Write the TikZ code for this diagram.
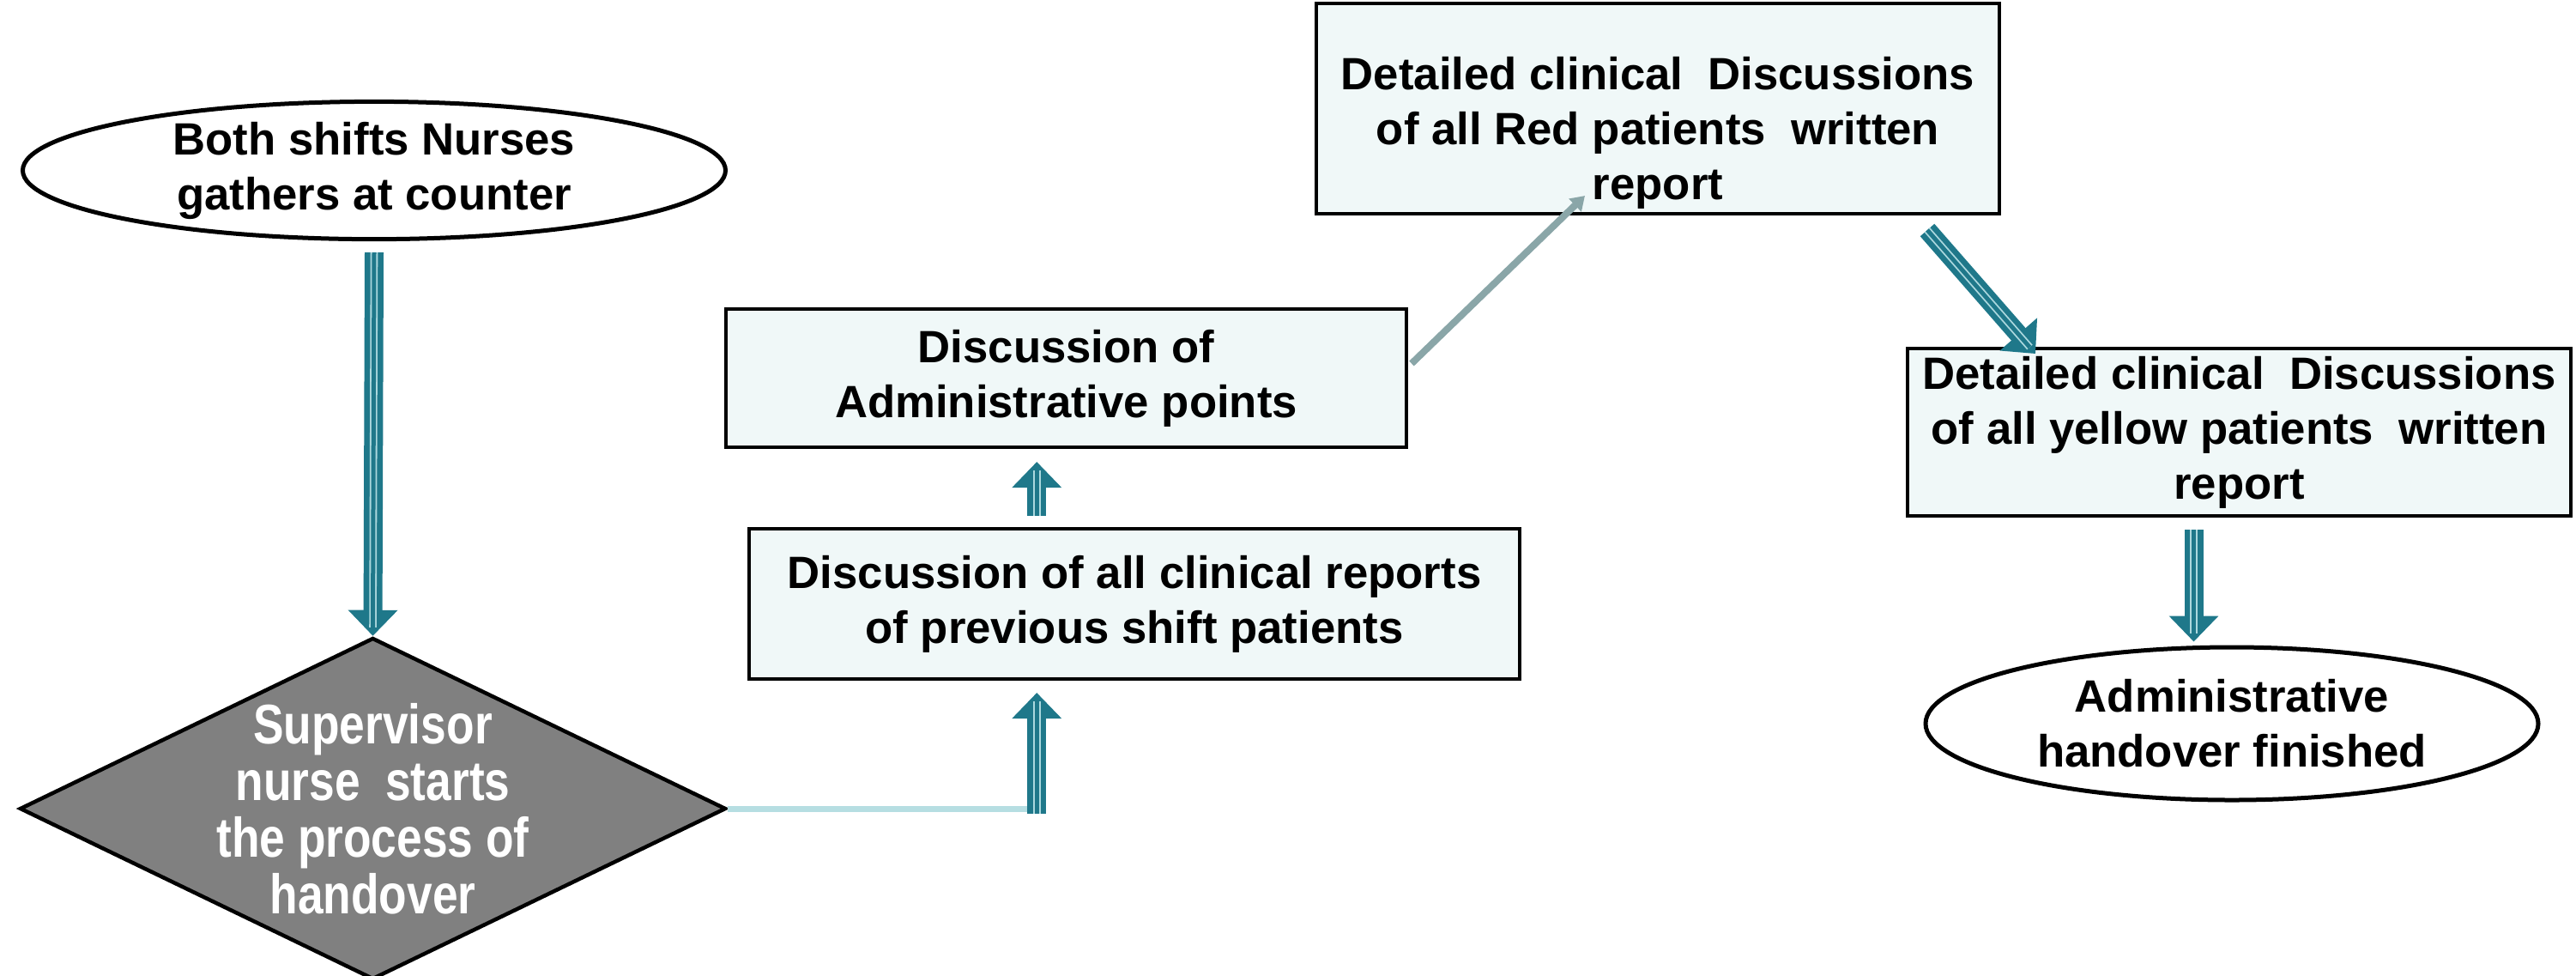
\documentclass[tikz,border=0pt]{standalone}
\usepackage{fontspec}
\setmainfont{Liberation Sans}
\newfontfamily\narrowsans[FakeStretch=0.82]{Liberation Sans}
\usepackage{tikz}
\usepackage{xcolor}
\usetikzlibrary{shapes.geometric, arrows.meta, positioning, calc}
\definecolor{boxfill}{RGB}{240, 248, 248}
\definecolor{flowteal}{RGB}{31, 120, 138}
\definecolor{flowlight}{RGB}{172, 216, 222}
\definecolor{feedcyan}{RGB}{182, 222, 226}
\definecolor{slantgray}{RGB}{138, 166, 168}
\definecolor{decgray}{RGB}{128, 128, 128}
\tikzset{
    stepbox/.style={
        rectangle, draw=black, line width=0.04cm, fill=boxfill, inner sep=0pt,
        font=\fontsize{15}{18.2}\selectfont\bfseries, align=center
    },
    endpoint/.style={stepbox, ellipse, fill=white, line width=0.05cm},
    decision/.style={
        diamond, draw=black, line width=0.045cm, fill=decgray, inner sep=0pt
    },
    decisiontext/.style={
        text=white, align=center, inner sep=0pt,
        font=\narrowsans\fontsize{18.5}{18.8}\selectfont\bfseries
    },
    blockarrow/.style={
        draw=flowteal, line width=0.22cm,
        -{Triangle[length=0.3cm, width=0.56cm]}
    },
    blockinner/.style={
        draw=flowlight, line width=0.018cm, double=flowteal, double distance=0.05cm,
        shorten >=0.1cm
    },
    feedline/.style={draw=feedcyan, line width=0.07cm},
    slantarrow/.style={
        draw=slantgray, line width=0.08cm, -{Triangle[length=0.16cm, width=0.2cm]}
    },
}
\newcommand{\hollowarrow}[2]{%
    \draw[blockarrow] #1 -- #2;
    \draw[blockinner] #1 -- #2;
}

\begin{document}
\begin{tikzpicture}
    \useasboundingbox (0,0) rectangle (30.02,-11.36);

    \node[endpoint, minimum width=8.19cm, minimum height=1.59cm] (gather) at (4.36, -1.985)
        {Both shifts Nurses\\gathers at counter};

    \node[decision, minimum width=8.23cm, minimum height=3.98cm,
        label={[decisiontext]center:{Supervisor\\nurse\ \ starts\\the process of\\handover}}]
        (start) at (4.345, -9.42) {};

    \node[stepbox, minimum width=7.93cm, minimum height=1.61cm] (admin) at (12.425, -4.405)
        {Discussion of\\Administrative points};

    \node[stepbox, minimum width=8.98cm, minimum height=1.75cm] (reports) at (13.22, -7.035)
        {Discussion of all clinical reports\\of previous shift patients};

    \node[stepbox, minimum width=7.96cm, minimum height=2.45cm] (red) at (19.32, -1.265)
        {\rule{0pt}{0.95cm}Detailed clinical\ \ Discussions\\of all Red patients\ \ written\\report};

    \node[stepbox, minimum width=7.73cm, minimum height=1.95cm] (yellow) at (26.095, -5.035)
        {Detailed clinical\ \ Discussions\\of all yellow patients\ \ written\\report};

    \node[endpoint, minimum width=7.14cm, minimum height=1.78cm] (done) at (26.01, -8.43)
        {Administrative\\handover finished};

    % connectors
    \coordinate (bend) at ($(start.east)+(3.6,0)$);
    \coordinate (redin) at ($(red.south)+(-0.85,0.23)$);
    \coordinate (yellowtop) at ($(yellow.south)+(-0.53,-0.14)$);

    \hollowarrow{($(gather.south)+(0,-0.13)$)}{(start.north)}
    \draw[feedline] (start.east) -- (bend);
    \hollowarrow{($(bend)+(0,-0.06)$)}{($(bend |- reports.south)+(0,-0.14)$)}
    \hollowarrow{($(bend |- reports.north)+(0,0.13)$)}{($(bend |- admin.south)+(0,-0.15)$)}
    \draw[slantarrow] ($(admin.east)+(0.04,0.17)$) -- (redin);
    \hollowarrow{($(red.south east)+(-0.86,-0.17)$)}{($(yellow.north west)+(1.51,-0.08)$)}
    \hollowarrow{(yellowtop)}{($(yellowtop |- done.north)+(0,0.04)$)}
\end{tikzpicture}
\end{document}
